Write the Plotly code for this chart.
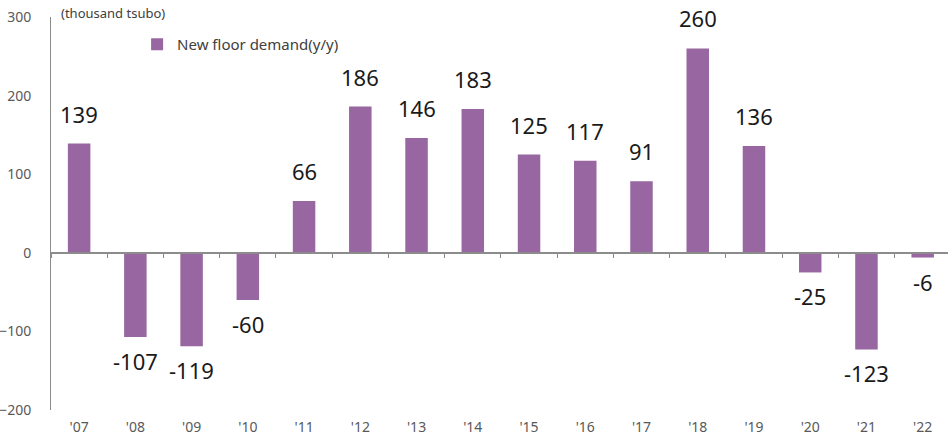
import plotly.graph_objects as go

years = ["'07", "'08", "'09", "'10", "'11", "'12", "'13", "'14",
         "'15", "'16", "'17", "'18", "'19", "'20", "'21", "'22"]
demand = [139, -107, -119, -60, 66, 186, 146, 183,
          125, 117, 91, 260, 136, -25, -123, -6]
y_ticks = [-200, -100, 0, 100, 200, 300]

BAR = "#9866A0"
AXIS = "#8c8c8c"
FONT = "Noto Sans"

fig = go.Figure()
fig.add_trace(go.Bar(
    x=years, y=demand, name="New floor demand(y/y)",
    marker=dict(color=BAR, line=dict(width=0)), width=0.4,
    hoverinfo="x+y",
))
# helper trace for the zero-line axis (with category boundary ticks)
fig.add_trace(go.Scatter(
    x=years, y=demand, xaxis="x2", mode="markers",
    marker=dict(opacity=0, size=1), showlegend=False, hoverinfo="skip",
))

for yr, v in zip(years, demand):
    fig.add_annotation(
        x=yr, y=v, xref="x", yref="y", text=str(v), showarrow=False,
        yanchor="bottom" if v >= 0 else "top",
        yshift=13 if v >= 0 else -7,
        font=dict(family=FONT, size=22, color="#1a1a1a"),
    )

fig.add_annotation(
    x=0.009, y=1.01, xref="paper", yref="paper", xanchor="left", yanchor="middle",
    text="(thousand tsubo)", showarrow=False,
    font=dict(family=FONT, size=13, color="#404040"),
)

fig.update_layout(
    width=948, height=436,
    margin=dict(l=51, r=0, t=17, b=26),
    paper_bgcolor="white", plot_bgcolor="white",
    font=dict(family=FONT, color="#595959"),
    bargap=0.6,
    showlegend=True,
    legend=dict(x=0.096, y=0.972, xanchor="left", yanchor="top",
                bgcolor="rgba(0,0,0,0)",
                font=dict(family=FONT, size=15, color="#404040")),
    xaxis=dict(type="category", categoryarray=years, range=[-0.5, 15.45],
               showline=False, ticks="", showgrid=False, zeroline=False,
               automargin=False,
               tickfont=dict(size=14, color="#595959"), ticklabelstandoff=7),
    xaxis2=dict(type="category", categoryarray=years, overlaying="x", matches="x",
                anchor="free", position=0.4, side="bottom", automargin=False,
                showline=True, linecolor=AXIS, linewidth=1.5,
                ticks="outside", ticklen=4, tickcolor=AXIS, tickwidth=1,
                tickson="boundaries", showticklabels=False, showgrid=False,
                zeroline=False),
    yaxis=dict(range=[-200, 300], tickvals=y_ticks, showgrid=False, zeroline=False,
               showline=True, linecolor=AXIS, linewidth=1, ticks="",
               automargin=False,
               tickfont=dict(size=14, color="#595959"), ticklabelstandoff=16),
)

fig.write_html("out.html", config={"displayModeBar": False},
               post_script="document.body.style.margin='0';document.body.style.overflow='hidden';")
